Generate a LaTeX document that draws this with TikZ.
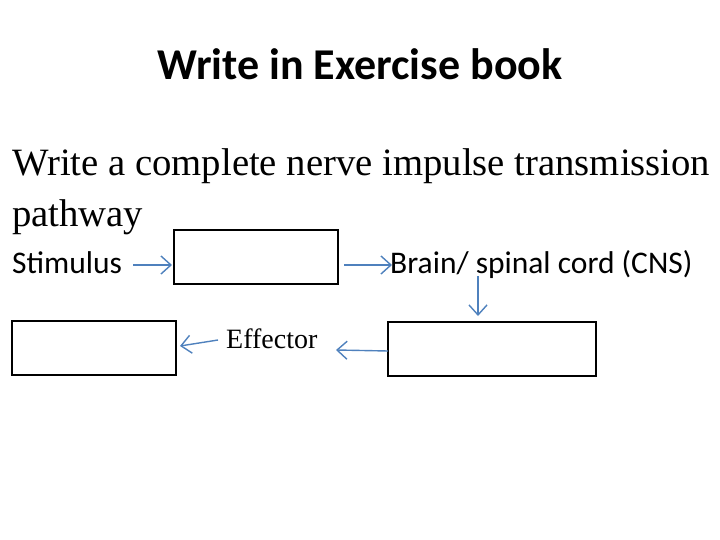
\documentclass[tikz,border=0pt]{standalone}
\usepackage{fontspec}
\setmainfont{Liberation Serif}
\newfontfamily\calfont{Carlito}
\usetikzlibrary{arrows.meta}
\definecolor{arrblue}{HTML}{4F81BD}
\tikzset{
  box/.style={draw=black, line width=1.2pt, inner sep=0pt},
  arr/.style={draw=arrblue, line width=1.4pt, -{Straight Barb[length=10pt,width=18pt]}},
  lab/.style={inner sep=0pt, anchor=base west}
}
\begin{document}
\begin{tikzpicture}[x=1pt,y=-1pt]
\useasboundingbox (0,0) rectangle (720,540);
\node[inner sep=0pt, anchor=base] (title) at (360,80) {\calfont\fontsize{44}{48}\selectfont\bfseries Write in Exercise book};
\node[lab] (l1) at (12,176) {\fontsize{38.7}{42}\selectfont Write a complete nerve impulse transmission};
\node[lab] (l2) at (12,226) {\fontsize{38.7}{42}\selectfont pathway};
\node[lab] (stim) at (12,273) {\calfont\fontsize{31.5}{34}\selectfont Stimulus};
\node[lab] (cns) at (390,273) {\calfont\fontsize{31.5}{34}\selectfont Brain/ spinal cord (CNS)};
\node[lab] (eff) at (226,348) {\fontsize{28}{32}\selectfont Effector};
\draw[box] (174,230) rectangle (338,284);
\draw[box] (388,322) rectangle (596,376);
\draw[box] (12,321) rectangle (176,375);
\coordinate (a1s) at (133,265); \coordinate (a1e) at (172,265);
\coordinate (a2s) at (344,265); \coordinate (a2e) at (392,265);
\coordinate (a3s) at (478,276); \coordinate (a3e) at (478,316);
\coordinate (a4s) at (388,351); \coordinate (a4e) at (336,350);
\coordinate (a5s) at (218,340); \coordinate (a5e) at (180,346);
\draw[arr] (a1s) -- (a1e);
\draw[arr] (a2s) -- (a2e);
\draw[arr] (a3s) -- (a3e);
\draw[arr] (a4s) -- (a4e);
\draw[arr] (a5s) -- (a5e);
\end{tikzpicture}
\end{document}
